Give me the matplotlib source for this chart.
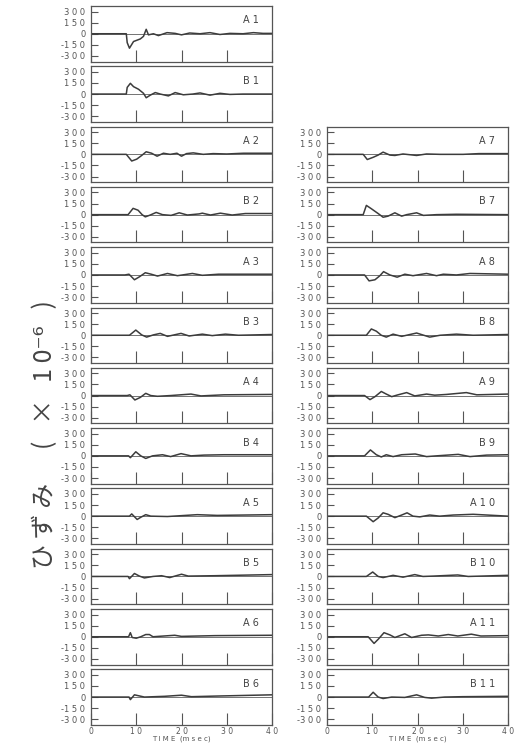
import matplotlib
matplotlib.use("Agg")
import matplotlib.pyplot as plt

# strain records (time in msec, strain in 1e-6)
A1_t = [0, 7.8, 8.0, 8.5, 9.4, 10.9, 11.6, 12.2, 12.7, 13.8, 14.9, 16.8, 18.6, 20.0, 21.8, 24.1, 26.3, 28.5, 30.7, 33.6, 35.9, 38.0, 40]
A1_v = [0, 0, -120, -195, -105, -70, -35, 60, -15, 0, -25, 15, 5, -15, 10, 0, 15, -10, 5, 0, 15, 5, 5]
B1_t = [0, 7.8, 8.0, 8.7, 9.4, 10.5, 11.6, 12.2, 13.1, 14.2, 15.3, 17.1, 18.6, 20.4, 22.5, 24.1, 26.3, 28.5, 30.7, 33.6, 40]
B1_v = [0, 0, 90, 145, 100, 65, 10, -50, -15, 20, 0, -25, 20, -10, 0, 15, -15, 10, -5, 0, 0]
A2_t = [0, 7.8, 9.0, 10.1, 11.2, 12.2, 13.4, 14.6, 16.0, 17.5, 19.0, 20.0, 21.1, 22.6, 24.8, 27.0, 30.0, 33.7, 40]
A2_v = [0, 0, -90, -65, -15, 35, 15, -25, 15, 0, 15, -25, 10, 20, 0, 10, 5, 15, 15]
B2_t = [0, 8.2, 9.3, 10.4, 11.3, 12.0, 13.1, 14.4, 15.8, 17.7, 19.5, 21.3, 23.9, 24.6, 26.4, 28.6, 31.2, 34.1, 40]
B2_v = [0, 0, 85, 60, 0, -30, -5, 30, 0, -10, 25, -5, 10, 20, -5, 20, -5, 15, 15]
A3_t = [0, 7.5, 8.4, 9.6, 10.7, 12.0, 13.3, 14.7, 16.9, 19.1, 22.4, 24.6, 28.2, 34.1, 40]
A3_v = [0, 0, 10, -65, -25, 30, 10, -15, 20, -10, 20, -5, 10, 10, 10]
B3_t = [0, 8.5, 9.9, 11.2, 12.3, 13.8, 15.3, 16.9, 19.9, 21.7, 24.6, 26.8, 29.7, 32.6, 40]
B3_v = [0, 0, 70, 5, -25, 5, 25, -15, 25, -10, 15, -5, 15, 0, 10]
A4_t = [0, 8.0, 8.6, 9.7, 10.9, 12.1, 13.2, 14.7, 17.6, 22.1, 24.3, 29.4, 40]
A4_v = [0, 0, 10, -60, -25, 30, 0, -10, 0, 20, -5, 10, 15]
B4_t = [0, 8.3, 8.7, 9.9, 11.0, 12.1, 13.6, 15.8, 17.6, 19.9, 22.1, 25.0, 29.4, 40]
B4_v = [0, 0, -25, 55, 0, -35, 0, 15, -10, 30, 0, 10, 15, 15]
A5_t = [0, 8.5, 9.0, 10.2, 11.0, 12.1, 13.2, 16.9, 23.5, 27.9, 40]
A5_v = [0, 0, 30, -45, -15, 20, 0, -5, 20, 10, 20]
B5_t = [0, 8.2, 8.5, 9.6, 10.7, 11.8, 13.7, 15.6, 17.4, 20.0, 21.5, 27.4, 40]
B5_v = [0, 0, -30, 40, 5, -20, 0, 10, -15, 30, 5, 10, 25]
A6_t = [0, 8.3, 8.7, 9.1, 10.0, 11.0, 12.1, 12.9, 13.7, 18.5, 20.0, 27.4, 40]
A6_v = [0, 0, 55, -10, -20, 0, 30, 30, 0, 20, 5, 15, 20]
B6_t = [0, 8.4, 8.7, 9.6, 10.7, 11.8, 16.3, 20.0, 22.2, 28.9, 40]
B6_v = [0, 0, -35, 30, 15, 0, 10, 25, 5, 15, 30]

A7_t = [0, 8.0, 8.9, 10.2, 11.3, 12.4, 13.9, 15.0, 16.8, 19.8, 22.0, 25.0, 30.1, 33.6, 40]
A7_v = [0, 0, -70, -40, -10, 30, -10, -15, 5, -15, 5, 0, 0, 10, 10]
B7_t = [0, 8.0, 8.7, 9.8, 11.3, 12.4, 13.5, 15.0, 16.5, 17.6, 19.8, 21.3, 24.2, 28.6, 40]
B7_v = [0, 0, 125, 80, 15, -35, -20, 25, -20, 0, 25, -10, 0, 5, 0]
A8_t = [0, 8.3, 9.3, 10.6, 11.7, 12.5, 13.9, 15.5, 17.2, 19.0, 22.0, 24.2, 25.7, 28.6, 31.6, 40]
A8_v = [0, 0, -80, -65, -10, 45, 0, -30, 10, -10, 20, -10, 10, 0, 20, 10]
B8_t = [0, 8.7, 9.8, 10.9, 12.0, 13.1, 14.6, 16.5, 19.8, 22.7, 25.0, 28.6, 32.3, 40]
B8_v = [0, 0, 85, 55, 0, -25, 15, -15, 30, -25, 0, 15, 0, 10]
A9_t = [0, 8.3, 9.5, 10.6, 12.0, 13.1, 14.3, 15.7, 17.6, 19.4, 22.0, 23.8, 26.4, 30.8, 33.1, 40]
A9_v = [0, 0, -55, -15, 55, 20, -15, 10, 40, -5, 20, 5, 15, 40, 10, 20]
B9_t = [0, 8.3, 9.6, 10.9, 12.0, 13.1, 14.6, 16.5, 19.5, 22.0, 24.2, 29.0, 31.6, 35.3, 40]
B9_v = [0, 0, 80, 15, -15, 15, -10, 15, 25, -10, 0, 20, -10, 10, 15]
A10_t = [0, 8.7, 10.2, 11.3, 12.4, 13.5, 15.0, 16.5, 17.7, 19.0, 20.5, 22.7, 24.9, 27.9, 32.3, 40]
A10_v = [0, 0, -75, -25, 45, 25, -20, 15, 45, 0, -10, 15, 0, 15, 25, 0]
B10_t = [0, 8.7, 10.1, 11.3, 12.4, 14.6, 16.8, 19.4, 21.2, 23.5, 28.9, 31.2, 40]
B10_v = [0, 0, 60, 0, -15, 15, -10, 25, 0, 5, 20, 0, 15]
A11_t = [0, 9.1, 10.4, 11.3, 12.6, 13.9, 15.0, 17.2, 18.7, 20.9, 22.4, 24.6, 26.8, 28.9, 31.9, 34.0, 40]
A11_v = [0, 0, -90, -35, 55, 25, -10, 40, -10, 20, 25, 10, 30, 10, 35, 10, 15]
B11_t = [0, 9.2, 10.2, 11.3, 12.4, 14.3, 17.2, 19.8, 21.6, 23.1, 26.0, 30.0, 40]
B11_v = [0, 0, 65, 0, -20, 0, -5, 30, -5, -15, 0, 5, 10]

left_panels = [("A 1", A1_t, A1_v), ("B 1", B1_t, B1_v), ("A 2", A2_t, A2_v), ("B 2", B2_t, B2_v),
               ("A 3", A3_t, A3_v), ("B 3", B3_t, B3_v), ("A 4", A4_t, A4_v), ("B 4", B4_t, B4_v),
               ("A 5", A5_t, A5_v), ("B 5", B5_t, B5_v), ("A 6", A6_t, A6_v), ("B 6", B6_t, B6_v)]
right_panels = [("A 7", A7_t, A7_v), ("B 7", B7_t, B7_v), ("A 8", A8_t, A8_v), ("B 8", B8_t, B8_v),
                ("A 9", A9_t, A9_v), ("B 9", B9_t, B9_v), ("A 1 0", A10_t, A10_v), ("B 1 0", B10_t, B10_v),
                ("A 1 1", A11_t, A11_v), ("B 1 1", B11_t, B11_v)]

y_ticks = [300, 150, 0, -150, -300]
y_labels = ["3 0 0", "1 5 0", "0", "-1 5 0", "-3 0 0"]
x_ticks = [0, 10, 20, 30, 40]
x_labels = ["0", "1 0", "2 0", "3 0", "4 0"]

W, H = 522, 749
ink = "#3c3c3c"
grey = "#555555"
fig = plt.figure(figsize=(W / 100, H / 100), dpi=100)


def panel(col_x, row, name, t, v, bottom):
    top = 6 + 60.3 * row
    ax = fig.add_axes([col_x / W, 1 - (top + 55.5) / H, 181 / W, 55.5 / H])
    ax.axhline(0, color=ink, lw=0.5)
    ax.plot(t, v, color=ink, lw=1.1)
    ax.set_xlim(0, 40)
    ax.set_ylim(-375, 375)
    for s in ax.spines.values():
        s.set_color(grey)
        s.set_linewidth(0.9)
    ax.set_yticks(y_ticks)
    ax.set_yticklabels(y_labels)
    ax.tick_params(axis="y", direction="in", length=5, width=0.8, color=grey,
                   labelsize=6, labelcolor=grey, pad=4)
    ax.set_xticks(x_ticks)
    ax.tick_params(axis="x", direction="in", length=9, width=0.8, color=grey,
                   labelsize=5.5, labelcolor=grey, pad=1.5)
    if bottom:
        ax.set_xticklabels(x_labels)
        ax.set_xlabel("T I M E  (m s e c)", fontsize=5, color=grey, labelpad=0)
    else:
        ax.set_xticklabels([])
    ax.text(0.93, 0.74, name, transform=ax.transAxes, ha="right", va="center",
            fontsize=7, color="#444444")


for i, (name, t, v) in enumerate(left_panels):
    panel(91, i, name, t, v, i == len(left_panels) - 1)
for i, (name, t, v) in enumerate(right_panels):
    panel(327, i + 2, name, t, v, i == len(right_panels) - 1)

fig.text(0.087, 0.42, "ひ ず み      (   ×   1 0⁻⁶   )", rotation=90, ha="center", va="center",
         fontsize=18, color="#444444", family=["Noto Sans CJK JP", "DejaVu Sans"])

fig.savefig("out.png", dpi=100)
